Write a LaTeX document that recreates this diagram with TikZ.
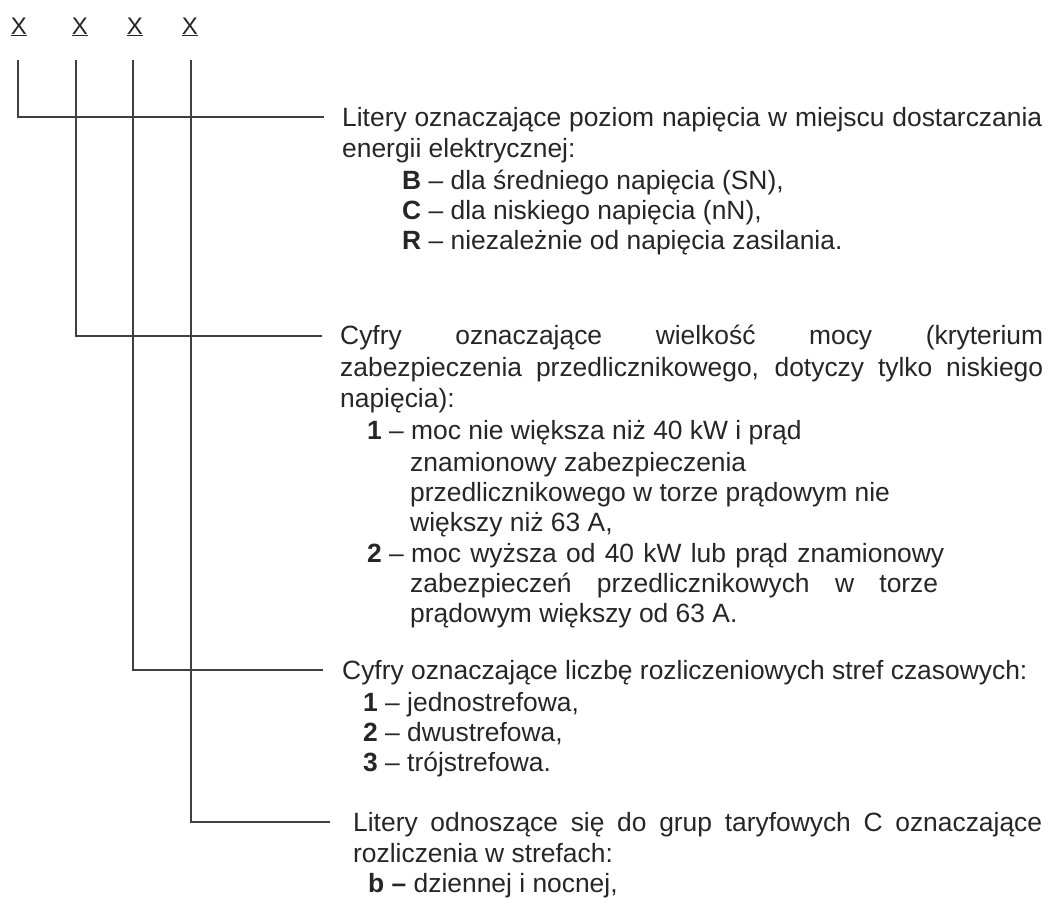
\documentclass[tikz,border=0pt]{standalone}
\usepackage{fontspec}
\setmainfont{Liberation Sans}

\begin{document}
\begin{tikzpicture}[x=1pt, y=-1pt,
  txt/.style={anchor=base west, inner sep=0pt, text=black!85,
    font=\fontsize{26.4}{31}\selectfont},
  lead/.style={draw=black!75, line width=1.5pt}]
  \useasboundingbox[fill=white] (0,0) rectangle (1052,898);
  % code letters and their leaders
  \foreach \n/\x/\lx/\ly/\ex in {1/19/18/117/324, 2/80/76/336/322, 3/135/133/670/323, 4/190/191/822/330}
  {
    \node[txt, anchor=base, font=\fontsize{24}{28}\selectfont] (x\n) at (\x,34) {\underline{X}};
    \coordinate (t\n) at (\lx,60);
    \coordinate (e\n) at (\ex,\ly);
    \path[lead] (t\n) |- (e\n);
  }

  % first position
  \node[txt] (d1a) at (342,126) {\makebox[700pt][s]{Litery oznaczające poziom napięcia w miejscu dostarczania}};
  \node[txt] (d1b) at (342,157) {energii elektrycznej:};
  \foreach \yy/\k/\t in {189/B/{dla średniego napięcia (SN),}, 219/C/{dla niskiego napięcia (nN),}, 249/R/{niezależnie od napięcia zasilania.}}
    \node[txt] (d1\k) at (402,\yy) {\textbf{\k} – \t};

  % second position
  \node[txt] (d2a) at (340,344) {\makebox[703pt][s]{Cyfry oznaczające wielkość mocy (kryterium}};
  \node[txt] (d2b) at (340,376) {\makebox[703pt][s]{zabezpieczenia przedlicznikowego, dotyczy tylko niskiego}};
  \node[txt] (d2c) at (340,407) {napięcia):};
  \node[txt] (d2d) at (367,439) {\textbf{1} – moc nie większa niż 40 kW i prąd};
  \node[txt] (d2e) at (410,471) {znamionowy zabezpieczenia};
  \node[txt] (d2f) at (410,501) {przedlicznikowego w torze prądowym nie};
  \node[txt] (d2g) at (410,531) {większy niż 63 A,};
  \node[txt] (d2h) at (367,562) {\textbf{2} – \makebox[533pt][s]{moc wyższa od 40 kW lub prąd znamionowy}};
  \node[txt] (d2i) at (410,592) {\makebox[528pt][s]{zabezpieczeń przedlicznikowych w torze}};
  \node[txt] (d2j) at (410,622) {prądowym większy od 63 A.};

  % third position
  \node[txt] (d3a) at (342,679) {Cyfry oznaczające liczbę rozliczeniowych stref czasowych:};
  \foreach \yy/\k/\t in {711/1/{jednostrefowa,}, 741/2/{dwustrefowa,}, 771/3/{trójstrefowa.}}
    \node[txt] (d3\k) at (363,\yy) {\textbf{\k} – \t};

  % fourth position
  \node[txt] (d4a) at (353,831) {\makebox[689pt][s]{Litery odnoszące się do grup taryfowych C oznaczające}};
  \node[txt] (d4b) at (353,862) {rozliczenia w strefach:};
  \node[txt] (d4c) at (368,892) {\textbf{b –} dziennej i nocnej,};
\end{tikzpicture}
\end{document}
